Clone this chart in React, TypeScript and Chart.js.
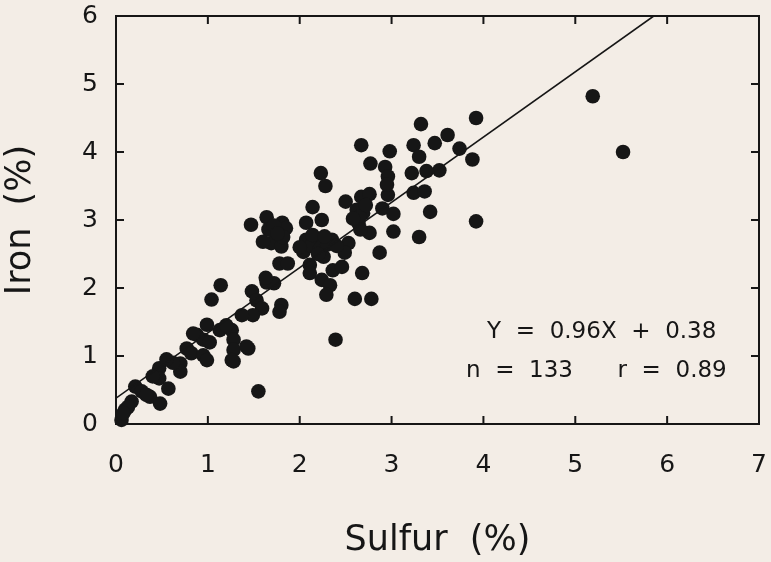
import React, { useEffect, useRef } from "react";
import { Chart, registerables } from "chart.js";

Chart.register(...registerables);

// Sulfur (%) values
const sulfur = [
  3.92, 3.32, 3.61, 3.47, 3.24, 3.30, 3.74, 3.88, 2.67, 2.98,
  2.77, 2.93, 2.96, 3.22, 3.52, 2.23, 2.28, 2.67, 2.76, 2.96,
  3.24, 3.36, 2.50, 3.42, 3.92, 2.14, 2.62, 2.69, 2.90, 3.02,
  1.47, 1.64, 1.66, 1.81, 1.85, 2.07, 2.24, 2.64, 2.76, 3.02,
  3.30, 1.69, 1.80, 1.82, 2.07, 2.17, 2.35, 2.04, 2.26, 2.53,
  2.49, 2.87, 1.78, 1.87, 2.11, 2.11, 2.36, 2.46, 2.68, 2.24,
  2.33, 1.64, 1.72, 1.14, 1.48, 1.04, 2.29, 2.60, 2.78, 1.53,
  1.59, 1.49, 1.37, 1.80, 1.78, 0.99, 1.13, 1.26, 1.28, 1.44,
  1.28, 1.28, 0.88, 0.95, 0.77, 0.82, 0.95, 0.99, 0.70, 0.70,
  0.47, 0.47, 0.57, 0.21, 0.28, 0.37, 0.48, 0.17, 0.10, 0.06,
  1.55, 2.39, 0.84, 1.42, 1.26, 0.33, 0.13, 0.08, 5.52, 5.19,
  2.12, 2.22, 2.30, 2.14, 2.27, 2.20, 2.65, 2.72, 2.66, 2.58,
  1.72, 1.76, 2.00, 2.40, 1.60, 1.63, 0.62, 0.40, 0.55, 1.02,
  1.20, 2.95, 3.38,
];

// Iron (%) values
const iron = [
  4.50, 4.41, 4.25, 4.13, 4.10, 3.93, 4.05, 3.89, 4.10, 4.01,
  3.83, 3.78, 3.64, 3.69, 3.73, 3.69, 3.50, 3.34, 3.38, 3.37,
  3.40, 3.42, 3.27, 3.12, 2.98, 3.19, 3.15, 3.10, 3.17, 3.09,
  2.93, 3.04, 2.86, 2.96, 2.88, 2.96, 3.00, 2.95, 2.81, 2.83,
  2.75, 2.66, 2.61, 2.75, 2.71, 2.66, 2.71, 2.53, 2.46, 2.66,
  2.52, 2.52, 2.36, 2.36, 2.34, 2.22, 2.26, 2.31, 2.22, 2.12,
  2.04, 2.08, 2.07, 2.04, 1.95, 1.83, 1.90, 1.84, 1.84, 1.82,
  1.70, 1.60, 1.60, 1.75, 1.65, 1.46, 1.38, 1.38, 1.24, 1.11,
  1.09, 0.92, 1.31, 1.24, 1.11, 1.04, 1.01, 0.94, 0.89, 0.77,
  0.82, 0.67, 0.52, 0.55, 0.48, 0.40, 0.30, 0.33, 0.21, 0.06,
  0.48, 1.24, 1.33, 1.14, 0.94, 0.43, 0.25, 0.16, 4.00, 4.82,
  2.62, 2.58, 2.64, 2.78, 2.76, 2.50, 3.05, 3.22, 2.86, 3.02,
  2.92, 2.80, 2.60, 2.62, 2.68, 2.15, 0.90, 0.70, 0.95, 1.20,
  1.45, 3.52, 3.72,
];

// Regression fit shown on the chart
const slope = 0.96;
const intercept = 0.38;
const equationText = "Y  =  0.96X  +  0.38";
const countText = "n  =  133";
const corrText = "r  =  0.89";

// Axis ranges / ticks
const xMin = 0;
const xMax = 7;
const yMin = 0;
const yMax = 6;
const tickStep = 0.5;
const xTitle = "Sulfur  (%)";
const yTitle = "Iron  (%)";

const INK = "#161616";
const FONT = "'DejaVu Sans', sans-serif";

export default function App() {
  const ref = useRef<HTMLCanvasElement | null>(null);

  useEffect(() => {
    const canvas = ref.current;
    if (!canvas) return;

    const points = sulfur.map((x, i) => ({ x, y: iron[i] }));
    const fitLine = [
      { x: xMin, y: slope * xMin + intercept },
      { x: (yMax - intercept) / slope, y: yMax },
    ];

    const framePlugin = {
      id: "frameAndTicks",
      beforeDatasetsDraw(chart: any) {
        const { ctx, chartArea: a, scales } = chart;
        ctx.save();
        ctx.strokeStyle = INK;
        ctx.lineWidth = 2;
        ctx.strokeRect(a.left, a.top, a.right - a.left, a.bottom - a.top);
        scales.x.ticks.forEach((t: any) => {
          const px = scales.x.getPixelForValue(t.value);
          const len = Number.isInteger(t.value) ? 8 : 4;
          ctx.beginPath();
          ctx.moveTo(px, a.bottom);
          ctx.lineTo(px, a.bottom - len);
          ctx.moveTo(px, a.top);
          ctx.lineTo(px, a.top + len);
          ctx.stroke();
        });
        scales.y.ticks.forEach((t: any) => {
          const py = scales.y.getPixelForValue(t.value);
          const len = Number.isInteger(t.value) ? 8 : 4;
          ctx.beginPath();
          ctx.moveTo(a.left, py);
          ctx.lineTo(a.left + len, py);
          ctx.moveTo(a.right, py);
          ctx.lineTo(a.right - len, py);
          ctx.stroke();
        });
        ctx.restore();
      },
    };

    const notePlugin = {
      id: "fitNote",
      afterDatasetsDraw(chart: any) {
        const { ctx, scales } = chart;
        ctx.save();
        ctx.fillStyle = INK;
        ctx.font = `23px ${FONT}`;
        ctx.textBaseline = "middle";
        ctx.textAlign = "left";
        ctx.fillText(equationText, scales.x.getPixelForValue(4.04), scales.y.getPixelForValue(1.35));
        ctx.fillText(countText, scales.x.getPixelForValue(3.81), scales.y.getPixelForValue(0.78));
        ctx.fillText(corrText, scales.x.getPixelForValue(5.46), scales.y.getPixelForValue(0.78));
        ctx.restore();
      },
    };

    const zeroPad = (s: any) => {
      s.paddingTop = 0;
      s.paddingBottom = 0;
      s.paddingLeft = 0;
      s.paddingRight = 0;
    };

    const chart = new Chart(canvas, {
      type: "scatter",
      data: {
        datasets: [
          {
            type: "line",
            data: fitLine,
            borderColor: INK,
            borderWidth: 1.6,
            pointRadius: 0,
            fill: false,
            tension: 0,
          } as any,
          {
            data: points,
            backgroundColor: INK,
            borderWidth: 0,
            pointRadius: 7.3,
            clip: false,
          } as any,
        ],
      },
      options: {
        responsive: false,
        animation: false,
        devicePixelRatio: 1,
        layout: { padding: { top: 16, right: 12, left: 0, bottom: 0 } },
        plugins: {
          legend: { display: false },
          tooltip: { enabled: false },
        },
        scales: {
          x: {
            type: "linear",
            min: xMin,
            max: xMax,
            grid: { display: false, drawTicks: false },
            border: { display: false },
            ticks: {
              stepSize: tickStep,
              autoSkip: false,
              maxRotation: 0,
              padding: 26,
              color: INK,
              font: { family: FONT, size: 25 },
              callback: (v: any) => (Number.isInteger(v) ? String(v) : null),
            },
            title: {
              display: true,
              text: xTitle,
              color: INK,
              font: { family: FONT, size: 35 },
              padding: { top: 0, bottom: 0 },
            },
            afterFit: (s: any) => {
              s.height = 138;
              zeroPad(s);
            },
          },
          y: {
            type: "linear",
            min: yMin,
            max: yMax,
            grid: { display: false, drawTicks: false },
            border: { display: false },
            ticks: {
              stepSize: tickStep,
              autoSkip: false,
              maxTicksLimit: 100,
              padding: 18,
              color: INK,
              font: { family: FONT, size: 25 },
              callback: (v: any) => (Number.isInteger(v) ? String(v) : null),
            },
            title: {
              display: true,
              text: yTitle,
              color: INK,
              font: { family: FONT, size: 35 },
              padding: { top: 0, bottom: 0 },
            },
            afterFit: (s: any) => {
              s.width = 116;
              zeroPad(s);
            },
          },
        },
      } as any,
      plugins: [framePlugin, notePlugin],
    });

    return () => chart.destroy();
  }, []);

  return (
    <div
      style={{
        position: "fixed",
        left: 0,
        top: 0,
        width: 771,
        height: 562,
        background: "#f3ede6",
      }}
    >
      <canvas ref={ref} width={771} height={562} style={{ width: 771, height: 562, display: "block" }} />
    </div>
  );
}
